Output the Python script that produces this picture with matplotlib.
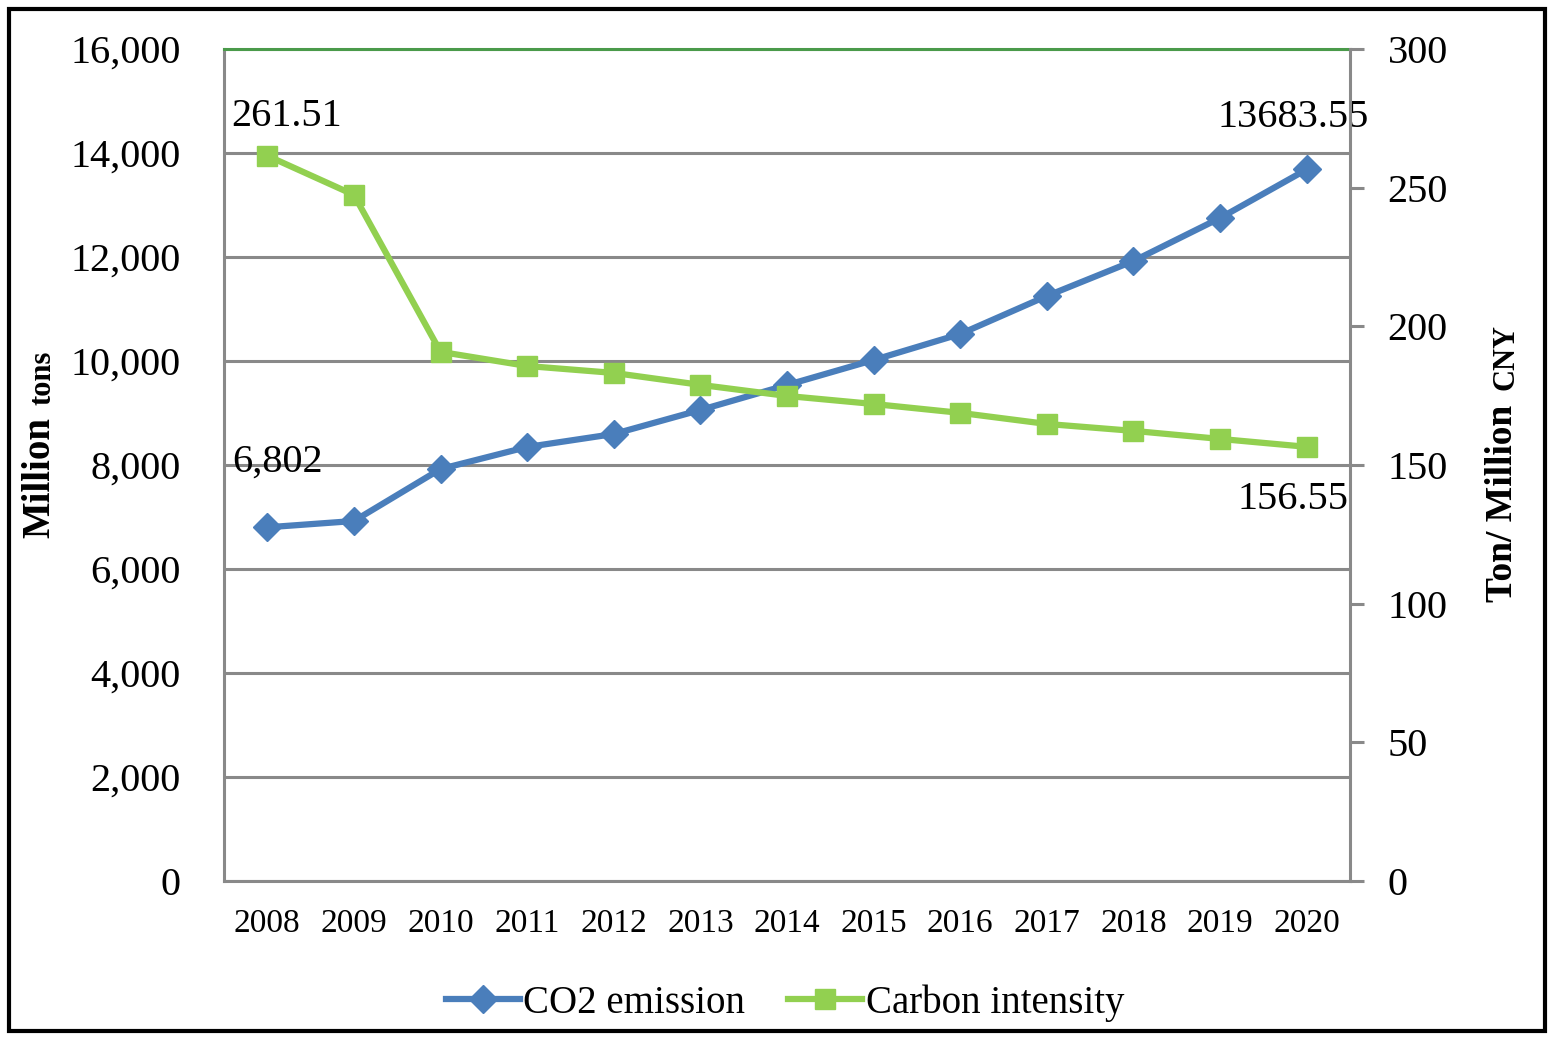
import numpy as np
import matplotlib.pyplot as plt
from matplotlib.patches import Rectangle

years = ['2008', '2009', '2010', '2011', '2012', '2013', '2014',
         '2015', '2016', '2017', '2018', '2019', '2020']
co2_emission = [6802, 6923, 7923, 8346, 8596, 9058, 9538,
                10019, 10519, 11250, 11923, 12750, 13683.55]
carbon_intensity = [261.51, 247.4, 190.8, 185.7, 183.2, 178.9, 174.9,
                    172.0, 168.8, 164.8, 162.3, 159.4, 156.55]

plt.rcParams['font.family'] = ['Liberation Serif', 'DejaVu Serif']

blue = '#4A7EBB'
green = '#92D050'
grey = '#898989'

fig = plt.figure(figsize=(15.55, 10.4), dpi=100)
ax = fig.add_axes([224/1555, 1-881/1040, (1350-224)/1555, (881-49)/1040])
ax2 = ax.twinx()

x = np.arange(len(years))

# gridlines (left axis)
ax.set_ylim(0, 16000)
ax.set_yticks(np.arange(0, 16001, 2000))
ax.set_yticklabels([f'{v:,}' for v in range(0, 16001, 2000)], fontsize=29)
ax.yaxis.grid(True, color=grey, lw=2.2)
ax.set_axisbelow(True)
ax.tick_params(axis='y', length=0, pad=31)
ax.set_xlim(-0.5, len(years) - 0.5)
ax.set_xticks(x)
ax.set_xticklabels(years, fontsize=24)
ax.tick_params(axis='x', length=0, pad=20)
for s in ['left', 'bottom']:
    ax.spines[s].set_color(grey)
    ax.spines[s].set_linewidth(2.2)
ax.spines['top'].set_color('#4A9A4A')
ax.spines['top'].set_linewidth(2.2)
ax.spines['right'].set_visible(False)

ax2.set_ylim(0, 300)
ax2.set_yticks(np.arange(0, 301, 50))
ax2.set_yticklabels([str(v) for v in range(0, 301, 50)], fontsize=29)
ax2.tick_params(axis='y', length=10, width=2.2, color=grey, pad=17)
ax2.spines['right'].set_color(grey)
ax2.spines['right'].set_linewidth(2.2)
for s in ['left', 'top', 'bottom']:
    ax2.spines[s].set_visible(False)

ax.plot(x, co2_emission, color=blue, lw=4.5, marker='D', markersize=14,
        zorder=5, label='CO2 emission')
ax2.plot(x, carbon_intensity, color=green, lw=4.5, marker='s', markersize=14,
         zorder=5, label='Carbon intensity')

# data labels
ax.text(x[0] - 0.4, 6802 + 1250, f'{co2_emission[0]:,}', fontsize=29,
        ha='left', va='center', zorder=6)
ax.text(x[-1] + 0.72, 13683.55 + 1000, '13683.55', fontsize=29,
        ha='right', va='center', zorder=6)
ax2.text(x[0] - 0.42, 261.51 + 14, '261.51', fontsize=29,
         ha='left', va='center', zorder=6)
ax2.text(x[-1] + 0.48, 156.55 - 19, '156.55', fontsize=29,
         ha='right', va='center', zorder=6)

# axis titles (two sizes)
fig.text(40/1555, 1-478/1040, 'Million', rotation=90, fontsize=28,
         fontweight='bold', ha='center', va='center')
fig.text(43/1555, 1-378/1040, 'tons', rotation=90, fontsize=22,
         fontweight='bold', ha='center', va='center')
fig.text(1503/1555, 1-503/1040, 'Ton/ Million', rotation=90, fontsize=27,
         fontweight='bold', ha='center', va='center')
fig.text(1506/1555, 1-357/1040, 'CNY', rotation=90, fontsize=22,
         fontweight='bold', ha='center', va='center')

# legend
h1, lab1 = ax.get_legend_handles_labels()
h2, lab2 = ax2.get_legend_handles_labels()
fig.legend(h1 + h2, lab1 + lab2, loc='center', bbox_to_anchor=(785/1555, 1-1003/1040),
           ncol=2, frameon=False, fontsize=28, handlelength=1.9,
           handletextpad=0.1, columnspacing=1.1)

fig.patches.append(Rectangle((9/1555, 9/1040), (1545-9)/1555, (1031-9)/1040,
                             transform=fig.transFigure, fill=False,
                             edgecolor='black', lw=3))

fig.savefig('out.png', dpi=100)
